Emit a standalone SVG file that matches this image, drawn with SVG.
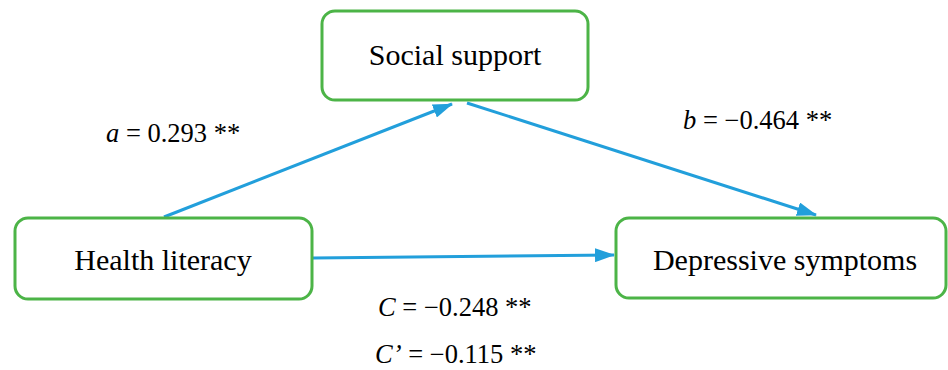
<svg xmlns="http://www.w3.org/2000/svg" width="948" height="370" viewBox="0 0 948 370">
<style>
.box{fill:#fff;stroke:#4cb447;stroke-width:3}
.t{font-family:'Liberation Serif',Tinos,'Times New Roman',Times,'DejaVu Serif','Noto Serif',serif;fill:#000;text-anchor:middle}
.n{font-size:30px}
.l{font-size:26.5px;text-anchor:start}
.c{stroke:#229fdb;stroke-width:3;fill:none;marker-end:url(#ah)}
</style>
<defs>
<marker id="ah" markerUnits="userSpaceOnUse" markerWidth="20" markerHeight="14" refX="19" refY="7" orient="auto">
<path d="M0,0 L20,7 L0,14 Z" fill="#229fdb"/>
</marker>
</defs>
<rect width="948" height="370" fill="#fff"/>
<g id="connectors">
<line class="c" x1="164" y1="217" x2="452" y2="104"/>
<line class="c" x1="467" y1="103" x2="816" y2="215"/>
<line class="c" x1="313" y1="258" x2="614" y2="255"/>
</g>
<g id="social-support">
<rect class="box" x="322" y="11" width="266" height="89" rx="13"/>
<text class="t n" x="455" y="65" font-family="Liberation Serif, serif">Social support</text>
</g>
<g id="health-literacy">
<rect class="box" x="15" y="218" width="297" height="81" rx="13"/>
<text class="t n" x="163" y="270">Health literacy</text>
</g>
<g id="depressive-symptoms">
<rect class="box" x="616" y="218" width="330" height="80" rx="13"/>
<text class="t n" x="785" y="270">Depressive symptoms</text>
</g>
<g id="labels">
<text class="t l" x="106" y="142"><tspan font-style="italic">a</tspan> = 0.293 **</text>
<text class="t l" x="683" y="129"><tspan font-style="italic">b</tspan> = −0.464 **</text>
<text class="t l" x="378" y="316"><tspan font-style="italic">C</tspan> = −0.248 **</text>
<text class="t l" x="375" y="363"><tspan font-style="italic">C’</tspan> = −0.115 **</text>
</g>
</svg>
